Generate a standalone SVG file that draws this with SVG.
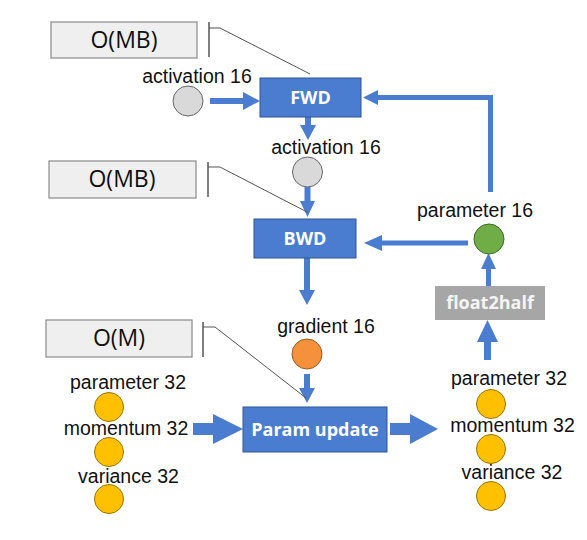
<svg xmlns="http://www.w3.org/2000/svg" width="587" height="540" viewBox="0 0 587 540">
<style>
.lbl{font-family:"Liberation Sans",Arial,sans-serif;font-size:19.5px;fill:#111;text-anchor:middle}
.big{font-family:"Open Sans","Liberation Sans",sans-serif;font-size:23px;fill:#111;text-anchor:middle}
.bt{font-family:"Open Sans","Liberation Sans",sans-serif;font-size:18px;font-weight:bold;fill:#fff;text-anchor:middle}
.op{fill:#4a7dd0;stroke:#2f5597;stroke-width:1}
.cmp{fill:#efefef;stroke:#8a8a8a;stroke-width:1.2}
.br{fill:none;stroke:#555;stroke-width:1}
.bar{stroke:#555;stroke-width:1.5}
.arr{fill:#4a7dd0}
.cg{fill:#d9d9d9;stroke:#666;stroke-width:1}
.cy{fill:#ffc000;stroke:#9a7400;stroke-width:1}
.co{fill:#f5913a;stroke:#9a5a20;stroke-width:1}
.cgr{fill:#70ad47;stroke:#3d6b22;stroke-width:1}
</style>
<rect width="587" height="540" fill="#fff"/>
<g id="connectors">
<path class="arr" d="M210,98 H243 V92 L260,101 L243,110 V104 H210 Z"/>
<path class="arr" d="M305,117 V125 H300 L308,140 L316,125 H311 V117 Z"/>
<path class="arr" d="M304.5,187 V201 H300 L307.5,217 L315,201 H310.5 V187 Z"/>
<path class="arr" d="M304,258 V290 H299 L307,305 L315,290 H310 V258 Z"/>
<path class="arr" d="M304,374 V388 H299 L307,403 L315,388 H310 V374 Z"/>
<path class="arr" d="M193,423 H213 V414 L243,429 L213,444 V435 H193 Z"/>
<path class="arr" d="M390,423 H410 V414 L438,429 L410,444 V435 H390 Z"/>
<path class="arr" d="M484,360 V342 H477 L487.5,320 L498,342 H491 V360 Z"/>
<path class="arr" d="M486,286 V269 H481 L488.5,253 L496,269 H491 V286 Z"/>
<path class="arr" d="M468,240.5 H382 V235 L364,243 L382,251 V245.5 H468 Z"/>
<path class="arr" d="M488,192 V100 H378 V105 L363,97.5 L378,90 V95 H493 V192 Z"/>
</g>
<g id="cmp1">
<rect class="cmp" x="51" y="22" width="146" height="36"/>
<text class="big" x="124" y="48">O(MB)</text>
<line class="bar" x1="209" y1="22" x2="209" y2="57"/>
<polyline class="br" points="209,28 220,28 310,74"/>
</g>
<g id="cmp2">
<rect class="cmp" x="49" y="161" width="147" height="37"/>
<text class="big" x="122" y="187">O(MB)</text>
<line class="bar" x1="208" y1="162" x2="208" y2="197"/>
<polyline class="br" points="208,167 220,167 307,212"/>
</g>
<g id="cmp3">
<rect class="cmp" x="46" y="320" width="146" height="37"/>
<text class="big" x="119" y="346">O(M)</text>
<line class="bar" x1="203" y1="322" x2="203" y2="357"/>
<polyline class="br" points="203,327 215,327 306,398"/>
</g>
<g id="fwd">
<rect class="op" x="260" y="78" width="101" height="39"/>
<text class="bt" x="310.5" y="104">FWD</text>
</g>
<g id="bwd">
<rect class="op" x="254" y="219" width="102" height="39"/>
<text class="bt" x="305" y="245">BWD</text>
</g>
<g id="param-update">
<rect class="op" x="243" y="407" width="144" height="45"/>
<text class="bt" x="315" y="436">Param update</text>
</g>
<g id="float2half">
<rect x="435" y="286" width="110" height="34" fill="#a6a6a6"/>
<text class="bt" x="490" y="309" style="fill:#f4f4f4">float2half</text>
</g>
<g id="activation1">
<text class="lbl" x="197" y="83">activation 16</text>
<circle class="cg" cx="188" cy="101" r="15"/>
</g>
<g id="activation2">
<text class="lbl" x="326" y="154">activation 16</text>
<circle class="cg" cx="307.5" cy="172" r="15"/>
</g>
<g id="gradient">
<text class="lbl" x="326" y="333">gradient 16</text>
<circle class="co" cx="307" cy="354" r="15"/>
</g>
<g id="parameter16">
<text class="lbl" x="475" y="217">parameter 16</text>
<circle class="cgr" cx="489" cy="239" r="15"/>
</g>
<g id="left-state">
<text class="lbl" x="128" y="389">parameter 32</text>
<circle class="cy" cx="109" cy="407" r="14.5"/>
<text class="lbl" x="126" y="435">momentum 32</text>
<circle class="cy" cx="109" cy="452" r="14.5"/>
<text class="lbl" x="128.5" y="483">variance 32</text>
<circle class="cy" cx="109" cy="499" r="14.5"/>
</g>
<g id="right-state">
<text class="lbl" x="509" y="385">parameter 32</text>
<circle class="cy" cx="491" cy="404" r="14.5"/>
<text class="lbl" x="512.5" y="432">momentum 32</text>
<circle class="cy" cx="491" cy="449" r="14.5"/>
<text class="lbl" x="512" y="479">variance 32</text>
<circle class="cy" cx="491" cy="496" r="14.5"/>
</g>
</svg>
